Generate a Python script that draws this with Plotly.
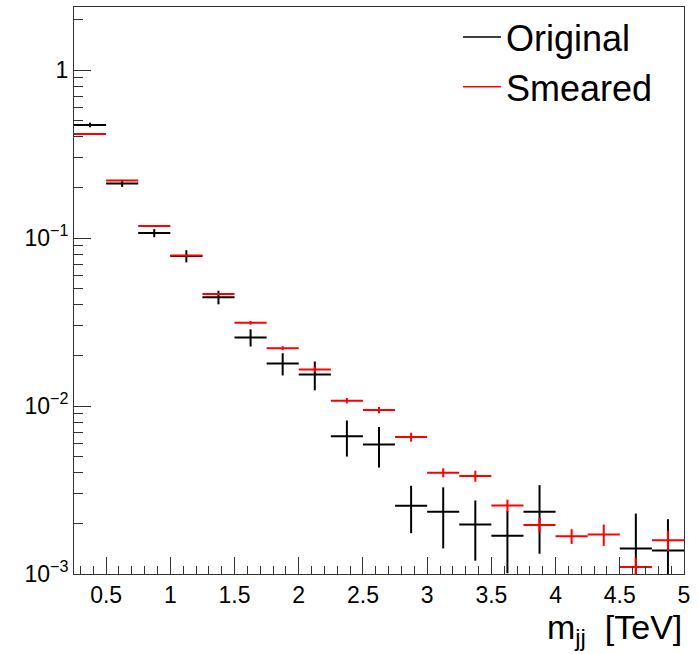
import plotly.graph_objects as go

# bin centres of m_jj [TeV] (bin width 0.25)
bin_centers = [0.375, 0.625, 0.875, 1.125, 1.375, 1.625, 1.875, 2.125, 2.375, 2.625,
               2.875, 3.125, 3.375, 3.625, 3.875, 4.125, 4.375, 4.625, 4.875]
bin_half_width = 0.125

original = [0.471, 0.211, 0.107, 0.0781, 0.0444, 0.0256, 0.0179, 0.0154, 0.0066, 0.0059,
            0.00255, 0.00235, 0.00197, 0.00169, 0.00235, None, None, 0.00142, 0.00138]
original_err = [0.015, 0.0097, 0.0059, 0.0065, 0.0041, 0.0030, 0.0027, 0.0030, 0.0016, 0.0016,
                0.0008, 0.00093, 0.00077, 0.00068, 0.00103, None, None, 0.00087, 0.00074]

smeared = [0.416, 0.220, 0.118, 0.0788, 0.0464, 0.0313, 0.0221, 0.0165, 0.01076, 0.00946,
           0.00653, 0.00401, 0.00383, 0.00256, 0.00196, 0.00168, 0.00172, 0.00110, 0.00159]
smeared_err = [0.004, 0.0025, 0.0015, 0.0010, 0.0007, 0.0008, 0.0006, 0.0006, 0.0004, 0.0004,
               0.0004, 0.00025, 0.00029, 0.00021, 0.00019, 0.00017, 0.00025, 0.00015, 0.00022]

x_tickvals = [0.5, 1, 1.5, 2, 2.5, 3, 3.5, 4, 4.5, 5]
x_ticktext = ["0.5", "1", "1.5", "2", "2.5", "3", "3.5", "4", "4.5", "5"]
y_tickvals = [0.001, 0.01, 0.1, 1]
y_ticktext = ["10<sup>\u22123</sup>", "10<sup>\u22122</sup>", "10<sup>\u22121</sup>", "1"]

FONT = "Liberation Sans, Arial, Helvetica, sans-serif"

fig = go.Figure()

def add_hist(name, vals, errs, color):
    xs = [x for x, v in zip(bin_centers, vals) if v is not None]
    ys = [v for v in vals if v is not None]
    es = [e for e in errs if e is not None]
    fig.add_trace(go.Scatter(
        x=xs, y=ys, mode="markers",
        marker=dict(size=1, color=color),
        error_x=dict(type="constant", value=bin_half_width, color=color, thickness=2, width=0),
        error_y=dict(type="data", array=es, color=color, thickness=2, width=0),
        showlegend=False, hoverinfo="x+y",
    ))
    fig.add_trace(go.Scatter(
        x=[None], y=[None], mode="lines", name=name,
        line=dict(color=color, width=1.5), legendgroup=name,
    ))

add_hist("Original", original, original_err, "black")
add_hist("Smeared", smeared, smeared_err, "red")

fig.update_layout(
    width=699, height=654,
    margin=dict(l=74, r=15, t=7, b=80),
    paper_bgcolor="white", plot_bgcolor="white",
    font=dict(family=FONT, color="black"),
    legend=dict(
        x=0.6295, y=1.0, xanchor="left", yanchor="top",
        font=dict(size=36, family=FONT, color="black"),
        bgcolor="rgba(0,0,0,0)", tracegroupgap=0,
        itemwidth=38,
    ),
    xaxis=dict(
        range=[0.25, 5], showgrid=False, zeroline=False,
        showline=True, linecolor="#333", linewidth=1, mirror=True,
        tickvals=x_tickvals, ticktext=x_ticktext,
        ticks="inside", ticklen=17, tickcolor="#333", tickwidth=1,
        tickfont=dict(size=23, family=FONT, color="black"),
        minor=dict(dtick=0.1, tick0=0, ticks="inside", ticklen=8, tickcolor="#333", tickwidth=1),
    ),
    yaxis=dict(
        type="log", range=[-3, 0.375], showgrid=False, zeroline=False,
        showline=True, linecolor="#333", linewidth=1, mirror=True,
        tickvals=y_tickvals, ticktext=y_ticktext,
        ticks="inside", ticklen=17, tickcolor="#333", tickwidth=1,
        tickfont=dict(size=23, family=FONT, color="black"),
        minor=dict(dtick="D1", ticks="inside", ticklen=9, tickcolor="#333", tickwidth=1),
    ),
    annotations=[dict(
        text="m<sub>jj</sub>\u00a0\u00a0[TeV]", xref="paper", yref="paper",
        x=1.0, y=-0.057, xanchor="right", yanchor="top", showarrow=False,
        font=dict(size=34, family=FONT, color="black"),
    )],
)

fig.write_html("out.html", config={"displayModeBar": False},
               post_script="document.body.style.margin='0px';")
